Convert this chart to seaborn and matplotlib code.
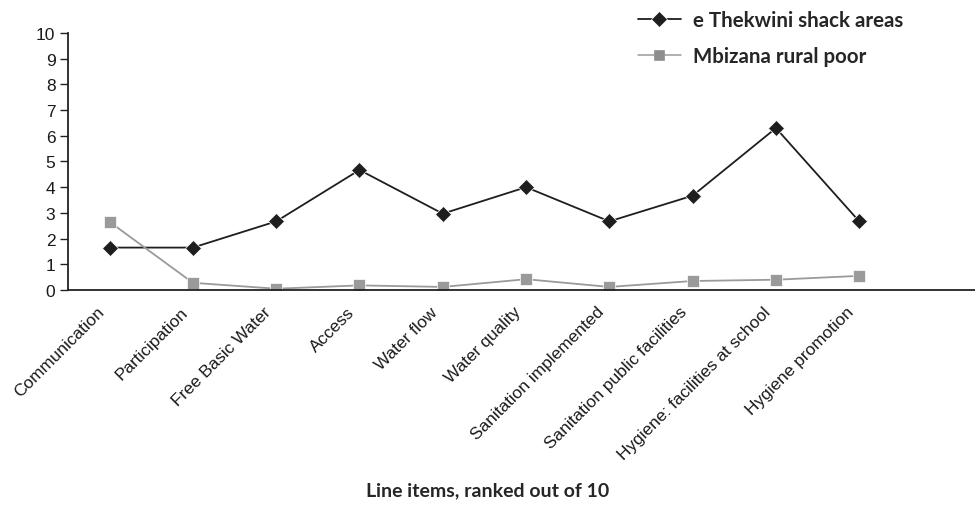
import matplotlib
matplotlib.use("Agg")
import matplotlib.pyplot as plt
import matplotlib.transforms as mtransforms
import seaborn as sns
import pandas as pd
import numpy as np

# ---- data ----
categories = ["Communication", "Participation", "Free Basic Water", "Access",
              "Water flow", "Water quality", "Sanitation implemented",
              "Sanitation public facilities", "Hygiene: facilities at school",
              "Hygiene promotion"]
thekwini = [1.65, 1.65, 2.67, 4.67, 2.97, 4.0, 2.67, 3.67, 6.3, 2.67]
mbizana = [2.65, 0.28, 0.05, 0.18, 0.12, 0.42, 0.12, 0.35, 0.4, 0.55]
series_names = ["e Thekwini shack areas", "Mbizana rural poor"]
y_ticks = list(range(0, 11))

df = pd.DataFrame({
    "item": categories * 2,
    "score": thekwini + mbizana,
    "series": [series_names[0]] * len(categories) + [series_names[1]] * len(categories),
})

sns.set_style("white")
plt.rcParams["font.family"] = ["Liberation Sans", "DejaVu Sans"]

fig = plt.figure(figsize=(9.75, 5.1), dpi=100)
ax = fig.add_axes([0.0697, 0.4294, 0.9303, 0.504])

sns.lineplot(data=df, x="item", y="score", hue="series", style="series",
             palette={series_names[0]: "#1e1e1e", series_names[1]: "#9a9a9a"},
             markers={series_names[0]: "D", series_names[1]: "s"},
             dashes=False, markersize=8, markeredgewidth=0.5, linewidth=1.3,
             sort=False, ax=ax)

# square markers a touch darker than their line
for ln in ax.lines:
    if ln.get_label() == series_names[1]:
        ln.set_markerfacecolor("#8e8e8e")
        ln.set_markeredgecolor("#8e8e8e")
        ln.set_markersize(7.5)
        ln.set_linewidth(1.1)

ax.set_xlim(-0.5, 10.39)
ax.set_ylim(0, 10)
ax.set_yticks(y_ticks)
ax.set_yticklabels([str(t) for t in y_ticks], fontsize=12.5, color="#1a1a1a")

# category labels centred, tick marks on the boundaries
ax.set_xticks(np.arange(len(categories)))
ax.set_xticks(np.arange(-0.5, len(categories) + 0.5, 1), minor=True)
ax.tick_params(axis="x", which="major", length=0, pad=10)
ax.tick_params(axis="x", which="minor", length=6, width=1, color="#222222", direction="out")
ax.tick_params(axis="y", length=6, width=1, color="#222222", direction="out", pad=3, left=True)
ax.set_xticklabels(categories, rotation=45, ha="right", rotation_mode="anchor",
                   fontsize=12.4, color="#1a1a1a")
# nudge the rotated labels left, like the original
shift = mtransforms.ScaledTranslation(-13 / 100, 0, fig.dpi_scale_trans)
for lab in ax.get_xticklabels():
    lab.set_transform(lab.get_transform() + shift)

for s in ["top", "right"]:
    ax.spines[s].set_visible(False)
for s in ["left", "bottom"]:
    ax.spines[s].set_color("#222222")
    ax.spines[s].set_linewidth(1.3)

ax.set_xlabel("")
ax.set_ylabel("")

leg = ax.legend(loc="upper left", bbox_to_anchor=(0.635, 1.014), bbox_transform=fig.transFigure,
                frameon=False, handlelength=2.1, handletextpad=0.6, labelspacing=0.76,
                prop={"family": "Lato", "weight": "bold", "size": 14.8})

fig.text(0.5, 0.037, "Line items, ranked out of 10", ha="center", va="center",
         fontsize=14, fontweight="bold", family="Lato")

fig.savefig("out.png", dpi=100)
